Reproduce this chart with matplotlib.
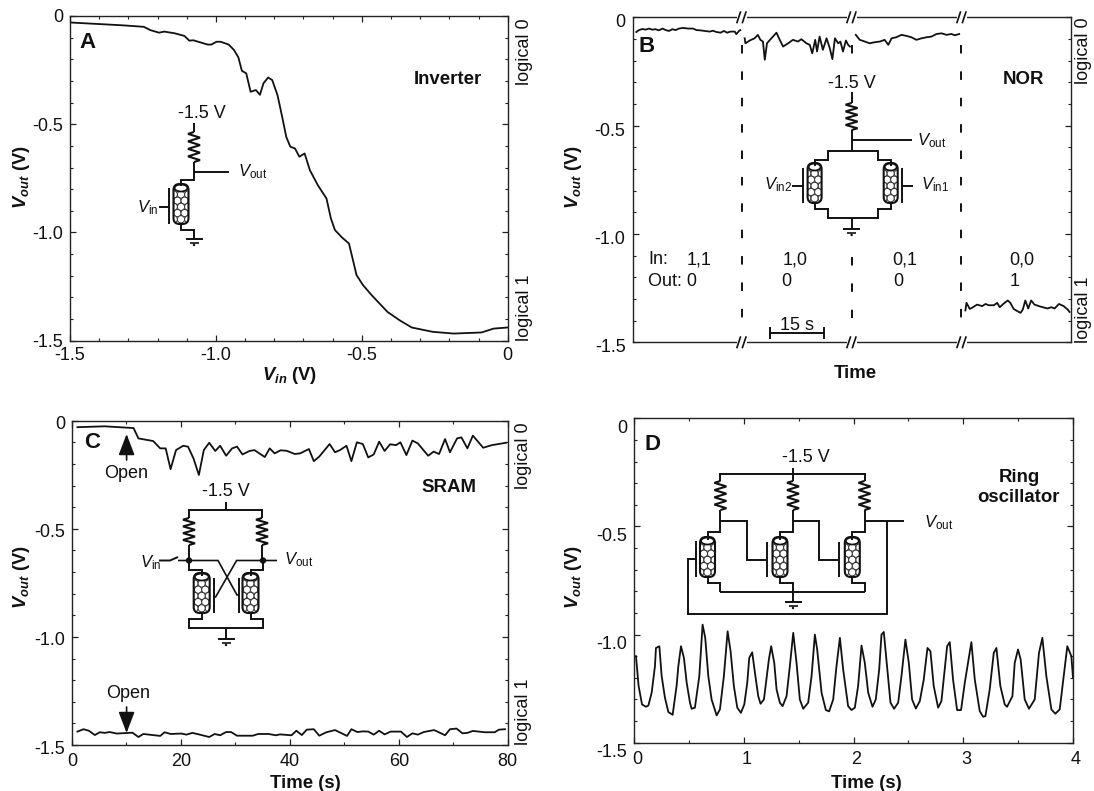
"""Four panels of nanotube logic gate traces (inverter, NOR, SRAM, ring oscillator)."""
import matplotlib
matplotlib.use("Agg")
import matplotlib.pyplot as plt
from matplotlib.patches import Circle, Ellipse, FancyBboxPatch, Rectangle
from matplotlib.ticker import MultipleLocator
from matplotlib.transforms import ScaledTranslation

a_vin = [-1.5, -1.32, -1.247, -1.225, -1.195, -1.177, -1.141, -1.108, -1.091, -1.078, -1.058, -1.028,
         -1.016, -0.998, -0.984, -0.956, -0.938, -0.923, -0.911, -0.896, -0.881, -0.863, -0.849, -0.837,
         -0.821, -0.807, -0.789, -0.773, -0.759, -0.745, -0.729, -0.714, -0.696, -0.678, -0.651, -0.621,
         -0.606, -0.592, -0.568, -0.544, -0.518, -0.496, -0.466, -0.412, -0.371, -0.329, -0.257, -0.185,
         -0.09, -0.048, 0]
a_vout = [-0.03, -0.043, -0.05, -0.065, -0.077, -0.072, -0.08, -0.092, -0.114, -0.112, -0.12, -0.132,
          -0.132, -0.119, -0.119, -0.132, -0.157, -0.191, -0.253, -0.265, -0.35, -0.342, -0.364, -0.311,
          -0.284, -0.296, -0.365, -0.465, -0.558, -0.604, -0.612, -0.65, -0.635, -0.712, -0.781, -0.843,
          -0.935, -0.989, -1.023, -1.051, -1.197, -1.243, -1.29, -1.367, -1.405, -1.439, -1.459, -1.467,
          -1.462, -1.444, -1.439]

b_t1 = [1.05, 1.78, 2.7, 3.6, 4.5, 5.4, 6.3, 7.2, 8.2, 9.1, 10, 10.9, 11.8, 12.7, 13.8, 15.2, 16.6,
        17.5, 18.4, 19.8, 21.1, 22, 23, 24.1, 25, 25.9, 26.8, 28, 28.4, 29.2, 29.5]
b_v1 = [-0.068, -0.059, -0.054, -0.057, -0.052, -0.057, -0.055, -0.06, -0.052, -0.059, -0.063, -0.055,
        -0.059, -0.052, -0.049, -0.052, -0.052, -0.059, -0.06, -0.063, -0.066, -0.062, -0.068, -0.071,
        -0.063, -0.071, -0.066, -0.066, -0.078, -0.062, -0.059]
b_t2 = [30.7, 30.9, 32.1, 33.4, 34.3, 35, 35.7, 36.2, 36.8, 38, 39.4, 40.3, 41.2, 42.6, 43.9, 45.3,
        46.2, 47.6, 48.5, 49.2, 50, 50.5, 51.2, 52.1, 53.1, 54, 54.7, 55.4, 56.3, 56.9, 57.6, 58.4,
        59, 59.5]
b_v2 = [-0.097, -0.12, -0.107, -0.097, -0.081, -0.104, -0.112, -0.196, -0.12, -0.097, -0.071, -0.104,
        -0.135, -0.12, -0.104, -0.112, -0.101, -0.12, -0.127, -0.166, -0.104, -0.158, -0.089, -0.15,
        -0.097, -0.143, -0.193, -0.097, -0.12, -0.112, -0.158, -0.107, -0.127, -0.135]
b_t3 = [61.1, 62.2, 63.6, 64.9, 66.3, 67.7, 69, 70, 70.9, 72.2, 73.6, 75, 76.3, 77.7, 79.1, 80.5,
        81.8, 83.2, 84.6, 85.9, 87.3, 88.2, 89.4]
b_v3 = [-0.081, -0.104, -0.112, -0.12, -0.115, -0.112, -0.104, -0.127, -0.097, -0.092, -0.081, -0.086,
        -0.092, -0.104, -0.097, -0.092, -0.089, -0.077, -0.074, -0.081, -0.077, -0.083, -0.077]
b_t4 = [91.1, 91.4, 92.3, 92.9, 94.3, 95.7, 96.6, 97.5, 98.9, 99.8, 100.5, 101.6, 102.7, 103.4, 104.3,
        105.4, 106.2, 106.8, 107.5, 108.3, 109.1, 110, 111.6, 113.6, 114.6, 115.5, 116.7, 118, 119.1, 119.6]
b_v4 = [-1.353, -1.318, -1.346, -1.341, -1.326, -1.333, -1.323, -1.329, -1.329, -1.318, -1.338, -1.321,
        -1.307, -1.318, -1.346, -1.357, -1.364, -1.349, -1.307, -1.344, -1.307, -1.326, -1.335, -1.344,
        -1.338, -1.344, -1.323, -1.333, -1.349, -1.36]

c_t_top = [1, 6, 11.3, 12.2, 14.9, 16.2, 17.2, 18.1, 19.1, 20.4, 21.3, 22.3, 23.3, 24.2, 25.2, 26.3,
           27.2, 28.3, 29.4, 30.3, 31.3, 32.6, 33.5, 35.4, 36.3, 37.2, 38.3, 39.4, 40.9, 41.9, 43.5,
           44.4, 45.4, 47.3, 48.3, 49.2, 50.4, 51.3, 52.3, 53.4, 54.4, 55.4, 56.4, 57.4, 58.4, 59.5,
           60.3, 61.4, 62.5, 63.5, 65.4, 66.4, 67.4, 68.5, 69.4, 70.7, 71.5, 72.6, 73.6, 75.5, 77.1, 79.7]
c_v_top = [-0.03, -0.026, -0.034, -0.082, -0.094, -0.128, -0.128, -0.224, -0.136, -0.116, -0.12, -0.174,
           -0.251, -0.136, -0.102, -0.14, -0.116, -0.162, -0.128, -0.12, -0.156, -0.14, -0.136, -0.168,
           -0.128, -0.151, -0.137, -0.139, -0.154, -0.151, -0.131, -0.187, -0.166, -0.108, -0.146, -0.136,
           -0.116, -0.187, -0.1, -0.108, -0.17, -0.156, -0.097, -0.14, -0.109, -0.113, -0.1, -0.159,
           -0.092, -0.105, -0.162, -0.143, -0.154, -0.085, -0.146, -0.082, -0.077, -0.128, -0.069, -0.125,
           -0.113, -0.102]
c_t_bot = [1, 2.1, 3.1, 4.2, 5.1, 6, 6.9, 8.2, 11.1, 12.2, 13.1, 16.2, 17, 18.1, 20.1, 21, 22.1, 23.3,
           25.2, 26.2, 27.2, 28.3, 29.2, 30.3, 33.2, 34.2, 36.1, 37.4, 38.2, 40.3, 41.2, 42.2, 43.1,
           44.4, 45.4, 46.7, 48.3, 50.5, 51.3, 52.4, 53.4, 54.4, 55.4, 56.4, 57.4, 58.5, 60.4, 61.5,
           62.5, 63.5, 64.6, 66.5, 68.5, 69.4, 70.6, 71.7, 72.6, 73.6, 75.8, 77.6, 78.4, 79.5]
c_v_bot = [-1.438, -1.427, -1.434, -1.454, -1.441, -1.444, -1.44, -1.447, -1.443, -1.463, -1.449, -1.458,
           -1.441, -1.449, -1.447, -1.452, -1.444, -1.451, -1.463, -1.449, -1.455, -1.44, -1.44, -1.457,
           -1.457, -1.449, -1.449, -1.455, -1.451, -1.455, -1.434, -1.454, -1.429, -1.427, -1.457, -1.441,
           -1.431, -1.458, -1.427, -1.44, -1.437, -1.438, -1.452, -1.434, -1.451, -1.438, -1.438, -1.463,
           -1.446, -1.452, -1.44, -1.431, -1.455, -1.427, -1.424, -1.446, -1.444, -1.435, -1.441, -1.441,
           -1.429, -1.427]

d_t = [0.018, 0.042, 0.073, 0.109, 0.131, 0.161, 0.191, 0.2, 0.231, 0.252, 0.282, 0.313, 0.352, 0.388,
       0.404, 0.428, 0.455, 0.48, 0.51, 0.525, 0.555, 0.595, 0.625, 0.649, 0.677, 0.707, 0.753, 0.783,
       0.819, 0.853, 0.88, 0.91, 0.941, 0.974, 1.005, 1.032, 1.05, 1.077, 1.102, 1.132, 1.153, 1.184,
       1.229, 1.25, 1.278, 1.299, 1.329, 1.354, 1.39, 1.42, 1.451, 1.481, 1.511, 1.542, 1.587, 1.618,
       1.648, 1.669, 1.709, 1.748, 1.778, 1.815, 1.845, 1.876, 1.906, 1.951, 1.982, 2.012, 2.042, 2.073,
       2.103, 2.134, 2.173, 2.203, 2.234, 2.255, 2.276, 2.3, 2.337, 2.37, 2.407, 2.437, 2.473, 2.504,
       2.534, 2.568, 2.604, 2.64, 2.674, 2.701, 2.731, 2.771, 2.801, 2.831, 2.853, 2.877, 2.907, 2.944,
       2.98, 3.014, 3.074, 3.105, 3.15, 3.181, 3.202, 3.241, 3.278, 3.302, 3.338, 3.378, 3.399, 3.448,
       3.469, 3.499, 3.523, 3.56, 3.599, 3.651, 3.69, 3.721, 3.757, 3.803, 3.839, 3.879, 3.915, 3.948,
       3.985, 4.0]
d_v = [-1.1, -1.238, -1.323, -1.334, -1.328, -1.269, -1.146, -1.062, -1.054, -1.192, -1.292, -1.358,
       -1.371, -1.238, -1.146, -1.054, -1.108, -1.223, -1.315, -1.343, -1.338, -1.192, -0.954, -1.015,
       -1.192, -1.3, -1.374, -1.346, -1.192, -0.985, -1.077, -1.238, -1.338, -1.362, -1.323, -1.223,
       -1.108, -1.082, -1.177, -1.285, -1.32, -1.3, -1.115, -1.054, -1.131, -1.254, -1.315, -1.331,
       -1.285, -1.146, -0.992, -1.131, -1.3, -1.343, -1.315, -1.192, -1.0, -1.069, -1.269, -1.349,
       -1.355, -1.3, -1.146, -1.015, -1.162, -1.331, -1.349, -1.338, -1.238, -1.051, -1.131, -1.269,
       -1.334, -1.3, -1.162, -1.0, -0.988, -1.115, -1.315, -1.343, -1.315, -1.192, -1.023, -1.131,
       -1.3, -1.342, -1.308, -1.208, -1.062, -1.077, -1.238, -1.338, -1.308, -1.162, -1.054, -1.035,
       -1.208, -1.349, -1.349, -1.223, -1.035, -1.208, -1.354, -1.38, -1.377, -1.254, -1.085, -1.062,
       -1.238, -1.323, -1.334, -1.285, -1.131, -1.069, -1.115, -1.3, -1.343, -1.3, -1.085, -1.015,
       -1.192, -1.346, -1.366, -1.346, -1.192, -1.054, -1.1, -1.2]

W, H = 1094, 791
INK = "#111111"
FS = 13
plt.rcParams.update({"font.family": "Liberation Sans", "font.size": FS, "axes.unicode_minus": False,
                     "mathtext.fontset": "custom", "mathtext.rm": "Liberation Sans",
                     "mathtext.it": "Liberation Sans:italic", "mathtext.bf": "Liberation Sans:bold",
                     "mathtext.bfit": "Liberation Sans:italic:bold",
                     "axes.linewidth": 1.0, "axes.edgecolor": "#222222"})
fig = plt.figure(figsize=(W / 100, H / 100), dpi=100)


def panel(l, r, t, b, xlim, xmajor, xminor, dx=0, dy=0, xpad=4):
    ax = fig.add_axes([l / W, 1 - b / H, (r - l) / W, (b - t) / H])
    ax.set_xlim(*xlim)
    ax.set_ylim(-1.5, 0)
    ax.yaxis.set_minor_locator(MultipleLocator(0.1))
    ax.set_yticks([-1.5, -1.0, -0.5, 0], ["-1.5", "-1.0", "-0.5", "0"])
    if xmajor:
        ax.xaxis.set_major_locator(MultipleLocator(xmajor))
        ax.xaxis.set_minor_locator(MultipleLocator(xminor))
    else:
        ax.set_xticks([])
    ax.tick_params(which="major", direction="in", length=4.2, width=0.9, top=True, right=True, pad=5,
                   labelsize=FS, color="#222222", labelcolor=INK)
    ax.tick_params(axis="x", which="major", pad=xpad)
    ax.tick_params(which="minor", direction="in", length=2.3, width=0.8, top=True, right=True,
                   color="#222222")
    for lab in ax.get_yticklabels():
        lab.set_transform(lab.get_transform() + ScaledTranslation(0, -dy / 100, fig.dpi_scale_trans))
    for lab in ax.get_xticklabels():
        lab.set_transform(lab.get_transform() + ScaledTranslation(dx / 100, 0, fig.dpi_scale_trans))
    return ax


ax_a = panel(70, 507.7, 16, 340.7, (-1.5, 0), 0.5, 0.1, dy=0, xpad=4.5)
ax_a.set_xticks([-1.5, -1.0, -0.5, 0], ["-1.5", "-1.0", "-0.5", "0"])
ax_b = panel(632.5, 1071, 17.3, 342.3, (0, 120), None, None, dy=3.5)
ax_c = panel(72, 507.7, 420.7, 745, (0, 80), 20, 10, dy=2, xpad=5.5)
ax_d = panel(634, 1073, 418.3, 742.7, (0, 4), 1, 0.5, dx=3, dy=8, xpad=6)

line = dict(color=INK, lw=1.3, solid_joinstyle="round")
ax_a.plot(a_vin, a_vout, **line)
for t, v in [(b_t1, b_v1), (b_t2, b_v2), (b_t3, b_v3), (b_t4, b_v4)]:
    ax_b.plot(t, v, **line)
ax_c.plot(c_t_top, c_v_top, **line)
ax_c.plot(c_t_bot, c_v_bot, **line)
ax_d.plot(d_t, d_v, **line)

# dashed separators, the middle one stops behind the schematic
dash = dict(color=INK, lw=1.4, dashes=(4.37, 9.2), dash_capstyle="butt")
for x in (30, 90):
    ax_b.plot([x, x], [-0.128, -1.386], **dash)
ax_b.plot([60, 60], [-0.128, -0.175], **dash)
ax_b.plot([60, 60], [-1.108, -1.386], **dash)

# overlay in reference pixels for the schematics and free text
ov = fig.add_axes([0, 0, 1, 1], zorder=5)
ov.set_xlim(0, W)
ov.set_ylim(H, 0)
ov.axis("off")
ov.patch.set_alpha(0)


def wire(*pts, lw=1.4):
    ov.plot([p[0] for p in pts], [p[1] for p in pts], color=INK, lw=lw, solid_joinstyle="miter",
            solid_capstyle="butt", zorder=4)


def resistor(x, y0, y1, hw=6, teeth=4):
    n = teeth * 2
    pts = [(x, y0)]
    for i in range(n):
        pts.append((x + (hw if i % 2 else -hw), y0 + (y1 - y0) * (i + 0.5) / n))
    pts.append((x, y1))
    wire(*pts, lw=1.5)


def ground(x, y):
    wire((x - 8.5, y), (x + 8.5, y))
    wire((x - 4.5, y + 3.5), (x + 4.5, y + 3.5), lw=1.2)
    ov.add_patch(Circle((x, y + 6), 1.2, color=INK, lw=0))


def tube(x, y0, y1, hw=7.5):
    box = dict(boxstyle="round,pad=2,rounding_size=6")
    body = FancyBboxPatch((x - hw + 2, y0 + 2), 2 * hw - 4, y1 - y0 - 4, fc="white", ec="none", zorder=3, **box)
    ov.add_patch(body)
    r, step = 3.6, 6.2
    j = 0
    y = y0 + 10.5
    while y < y1 + 1:
        xs = [x - r, x + r] if j % 2 else [x - 2 * r, x, x + 2 * r]
        for xc in xs:
            c = Circle((xc, y), r, fc="white", ec="#333333", lw=0.7, zorder=3.1)
            ov.add_patch(c)
            c.set_clip_path(body)
        j += 1
        y += step
    ov.add_patch(FancyBboxPatch((x - hw + 2, y0 + 2), 2 * hw - 4, y1 - y0 - 4, fc="none", ec=INK, lw=1.5,
                                zorder=3.2, **box))
    ov.add_patch(Ellipse((x, y0 + 4), 2 * hw - 2, 7, fc="white", ec=INK, lw=1.3, zorder=3.3))


def label(x, y, s, **kw):
    kw.setdefault("ha", "center")
    kw.setdefault("va", "center")
    kw.setdefault("color", INK)
    ov.text(x, y, s, **kw)


def vlabel(x, y, sub):
    label(x, y, r"$\mathit{V}_{\mathrm{%s}}$" % sub, ha="left", fontsize=12)


def breakmark(x, y):
    ov.add_patch(Rectangle((x - 5, y - 2), 10, 4, fc="white", ec="none"))
    wire((x - 5, y + 6), (x - 1, y - 6), lw=1.2)
    wire((x + 0.5, y + 6), (x + 4.5, y - 6), lw=1.2)


for x in (741.7, 851.7, 961.7):
    breakmark(x, 17.3)
    breakmark(x, 342.3)

BOLD = dict(fontweight="bold", fontsize=13.4)
PANEL = dict(fontweight="bold", fontsize=16)
YLAB = r"$\mathbfit{V_{out}}\ \mathbf{(V)}$"

# A
label(87, 42, "A", **PANEL)
label(448, 79, "Inverter", **BOLD)
label(524.4, 18, "logical 0", rotation=90, va="top")
label(524.4, 341, "logical 1", rotation=90, va="bottom")
label(21, 177, YLAB, rotation=90, fontsize=13.2)
label(290, 376, r"$\mathbfit{V_{in}}\ \mathbf{(V)}$", fontsize=13.2)
label(202, 113, "-1.5 V")
wire((194, 123), (194, 132))
resistor(194, 132, 162)
wire((194, 162), (194, 180), (181, 180), (181, 186))
wire((194, 172), (229, 172))
tube(181, 184, 224)
wire((181, 224), (181, 230), (194, 230), (194, 239))
ground(194, 239)
wire((169, 188), (169, 224))
wire((159, 207), (169, 207))
vlabel(137, 208, "in")
vlabel(238, 172, "out")

# B
label(646.4, 46.7, "B", **PANEL)
label(1024, 80, "NOR", **BOLD)
label(1084, 17, "logical 0", rotation=90, va="top")
label(1084, 343, "logical 1", rotation=90, va="bottom")
label(573, 177, YLAB, rotation=90, fontsize=13.2)
label(855.8, 374, "Time", **BOLD)
label(852, 83, "-1.5 V")
wire((851.6, 92), (851.6, 103))
resistor(851.6, 103, 130)
wire((851.6, 130), (851.6, 151))
wire((851.6, 140), (911.6, 140))
wire((814.6, 166), (814.6, 160), (828, 160), (828, 151), (878, 151), (878, 160), (890.7, 160), (890.7, 166))
tube(814.6, 163, 203, hw=7)
tube(890.7, 163, 203, hw=7)
wire((814.6, 203), (814.6, 209), (828, 209), (828, 218), (878, 218), (878, 209), (890.7, 209), (890.7, 203))
wire((851.6, 218), (851.6, 229))
ground(851.6, 229)
wire((802.8, 168), (802.8, 203))
wire((792, 186), (802.8, 186))
wire((902.2, 168), (902.2, 203))
wire((902.2, 186), (913.4, 186))
vlabel(764, 185, "in2")
vlabel(921, 185, "in1")
vlabel(917, 141, "out")
label(648, 260, "In:", ha="left")
label(647.5, 281, "Out: 0", ha="left")
for x, s in [(699, "1,1"), (795, "1,0"), (905, "0,1"), (1022, "0,0")]:
    label(x, 260, s)
for x, s in [(786, "0"), (898, "0"), (1014.5, "1")]:
    label(x, 282, s)
label(796.5, 325, "15 s")
wire((769.6, 333), (824.4, 333))
wire((769.6, 327), (769.6, 339))
wire((824.4, 327), (824.4, 339))

# C
label(92.5, 443, "C", **PANEL)
label(449, 487, "SRAM", **BOLD)
label(524, 422, "logical 0", rotation=90, va="top")
label(524, 745, "logical 1", rotation=90, va="bottom")
label(21, 577, YLAB, rotation=90, fontsize=13.2)
label(305, 783, "Time (s)", **BOLD)
label(226, 491, "-1.5 V")
wire((226, 502), (226, 510))
wire((189, 518), (189, 510), (262, 510), (262, 518))
resistor(189, 518, 545)
resistor(262, 518, 545)
wire((189, 545), (189, 560))
wire((262, 545), (262, 560))
wire((159, 560.5), (170, 560.5), (178, 557))
wire((178, 560.5), (218, 560.5), (237, 595), (239, 595), lw=1.2)
wire((277, 560.5), (236.6, 560.5), (215.6, 597), (213.5, 597), lw=1.2)
ov.add_patch(Circle((189, 560.5), 3.2, color=INK, lw=0, zorder=4))
ov.add_patch(Circle((263, 560.5), 3.2, color=INK, lw=0, zorder=4))
wire((189, 560), (189, 570), (201.7, 570), (201.7, 576))
wire((263.4, 560), (263.4, 570), (250.5, 570), (250.5, 576))
tube(201.7, 573, 613, hw=8)
tube(250.5, 573, 613, hw=8)
wire((201.7, 613), (201.7, 619), (189, 619), (189, 628), (263, 628), (263, 619), (250.5, 619), (250.5, 613))
wire((226, 628), (226, 639))
ground(226, 639)
wire((213.5, 578), (213.5, 613))
wire((239, 578), (239, 613))
vlabel(140, 563, "in")
vlabel(284.5, 560, "out")
label(126.6, 473, "Open")
label(128.4, 694, "Open")
for start, tip in [(460, 434), (707, 733)]:
    ov.annotate("", xy=(126.6, tip), xytext=(126.6, start),
                arrowprops=dict(arrowstyle="-|>,head_width=0.38,head_length=1.0", color=INK, lw=1.2,
                                shrinkA=0, shrinkB=0))

# D
label(652, 444, "D", **PANEL)
label(1019, 477, "Ring", **BOLD)
label(1019, 498, "oscillator", **BOLD)
label(573, 577, YLAB, rotation=90, fontsize=13.2)
label(866, 783, "Time (s)", **BOLD)
label(806, 458, "-1.5 V")
wire((793, 468), (793, 481))
wire((720.4, 481), (720.4, 474), (864.5, 474), (864.5, 481))
for x, xt in [(720.4, 707.5), (793, 780), (864.5, 852.3)]:
    resistor(x, 481, 510)
    wire((x, 510), (x, 532), (xt, 532), (xt, 540))
    tube(xt, 537, 577)
    wire((xt, 577), (xt, 583), (x, 583), (x, 592))
wire((720.4, 592), (864.5, 592))
wire((720.4, 521), (747, 521), (747, 560), (766.8, 560))
wire((766.8, 542), (766.8, 577))
wire((793, 521), (819, 521), (819, 560), (839, 560))
wire((839, 542), (839, 577))
wire((864.5, 521), (903.6, 521))
wire((887.2, 521), (887.2, 614), (687.6, 614), (687.6, 559), (696.3, 559))
wire((696.3, 541), (696.3, 577))
wire((793, 592), (793, 602))
ground(793, 602)
vlabel(924, 523, "out")

fig.savefig("out.png", dpi=100)
